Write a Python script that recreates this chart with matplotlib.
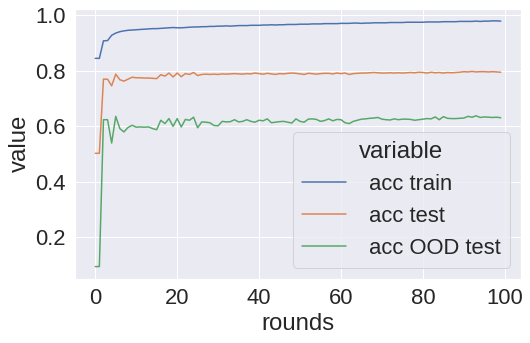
import numpy as np
import pandas as pd
import matplotlib
matplotlib.use("Agg")
import matplotlib.pyplot as plt
import seaborn as sns

rounds = list(range(100))

acc_train = [0.845, 0.845, 0.908, 0.909, 0.928, 0.936, 0.941, 0.944, 0.946, 0.947,
             0.948, 0.949, 0.950, 0.951, 0.952, 0.952, 0.953, 0.954, 0.955, 0.956,
             0.955, 0.955, 0.956, 0.957, 0.958, 0.958, 0.959, 0.959, 0.960, 0.960,
             0.961, 0.961, 0.962, 0.961, 0.962, 0.963, 0.963, 0.963, 0.964, 0.964,
             0.964, 0.965, 0.965, 0.966, 0.965, 0.966, 0.966, 0.967, 0.967, 0.967,
             0.968, 0.968, 0.968, 0.969, 0.969, 0.969, 0.970, 0.970, 0.970, 0.970,
             0.971, 0.971, 0.971, 0.972, 0.972, 0.971, 0.972, 0.972, 0.973, 0.973,
             0.973, 0.973, 0.974, 0.974, 0.974, 0.974, 0.975, 0.975, 0.975, 0.975,
             0.975, 0.976, 0.976, 0.976, 0.976, 0.977, 0.977, 0.977, 0.977, 0.978,
             0.978, 0.978, 0.978, 0.979, 0.978, 0.979, 0.979, 0.980, 0.980, 0.979]

acc_test = [0.503, 0.503, 0.770, 0.770, 0.746, 0.788, 0.768, 0.763, 0.770, 0.777,
            0.775, 0.775, 0.774, 0.774, 0.773, 0.772, 0.786, 0.781, 0.792, 0.778,
            0.792, 0.779, 0.790, 0.787, 0.794, 0.783, 0.787, 0.788, 0.787, 0.788,
            0.787, 0.789, 0.788, 0.789, 0.790, 0.789, 0.788, 0.790, 0.789, 0.792,
            0.790, 0.788, 0.791, 0.789, 0.787, 0.790, 0.789, 0.791, 0.792, 0.791,
            0.789, 0.787, 0.791, 0.790, 0.788, 0.790, 0.791, 0.791, 0.789, 0.792,
            0.790, 0.792, 0.787, 0.790, 0.791, 0.792, 0.792, 0.793, 0.794, 0.793,
            0.792, 0.792, 0.793, 0.792, 0.793, 0.792, 0.793, 0.794, 0.793, 0.795,
            0.794, 0.792, 0.795, 0.793, 0.794, 0.792, 0.794, 0.793, 0.794, 0.795,
            0.797, 0.796, 0.798, 0.796, 0.797, 0.797, 0.796, 0.797, 0.796, 0.795]

acc_ood_test = [0.095, 0.095, 0.624, 0.624, 0.540, 0.636, 0.592, 0.580, 0.596, 0.604,
                0.597, 0.598, 0.597, 0.598, 0.592, 0.588, 0.622, 0.610, 0.628, 0.600,
                0.628, 0.598, 0.625, 0.622, 0.633, 0.595, 0.616, 0.615, 0.613, 0.603,
                0.602, 0.618, 0.616, 0.617, 0.624, 0.616, 0.618, 0.624, 0.618, 0.615,
                0.622, 0.620, 0.627, 0.613, 0.615, 0.617, 0.618, 0.615, 0.612, 0.627,
                0.618, 0.615, 0.626, 0.627, 0.625, 0.618, 0.621, 0.627, 0.620, 0.625,
                0.624, 0.613, 0.610, 0.618, 0.622, 0.626, 0.627, 0.629, 0.630, 0.632,
                0.626, 0.624, 0.623, 0.627, 0.624, 0.626, 0.626, 0.625, 0.622, 0.624,
                0.626, 0.628, 0.627, 0.634, 0.624, 0.635, 0.629, 0.628, 0.628, 0.629,
                0.630, 0.636, 0.633, 0.638, 0.632, 0.634, 0.633, 0.632, 0.633, 0.631]

labels = [" acc train", " acc test", " acc OOD test"]

df = pd.DataFrame({"rounds": rounds,
                   labels[0]: acc_train,
                   labels[1]: acc_test,
                   labels[2]: acc_ood_test})
long_df = df.melt(id_vars="rounds", value_vars=labels)

sns.set_theme(style="darkgrid", font_scale=2)
plt.rcParams["font.family"] = ["Liberation Sans", "DejaVu Sans"]

fig, ax = plt.subplots(figsize=(530 / 72, 343 / 72), dpi=72)
sns.lineplot(data=long_df, x="rounds", y="value", hue="variable", ax=ax)
ax.legend(title="variable", loc="lower right")
fig.subplots_adjust(left=0.1415, right=0.983, top=0.975, bottom=0.187)
fig.savefig("out.png", dpi=72)
